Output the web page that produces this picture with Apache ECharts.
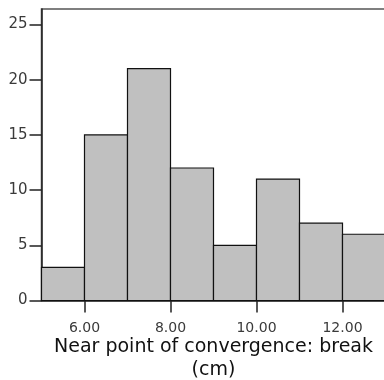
<!DOCTYPE html>
<html><head><meta charset="utf-8">
<script src="https://cdn.jsdelivr.net/npm/echarts@6/dist/echarts.min.js"></script>
<style>html,body{margin:0;padding:0;background:#fff}#c{width:384px;height:380px}</style>
</head><body><div id="c"></div>
<script>
const binStarts = [5, 6, 7, 8, 9, 10, 11, 12];
const binWidth = 1;
const counts = [3, 15, 21, 12, 5, 11, 7, 6];
const xTicks = [6, 8, 10, 12];
const yTicks = [0, 5, 10, 15, 20, 25];
const xTitle = 'Near point of convergence: break\n(cm)';

const data = binStarts.map((s, i) => [s, s + binWidth, counts[i]]);
const chart = echarts.init(document.getElementById('c'), null, {renderer: 'canvas'});
const font = 'DejaVu Sans';
chart.setOption({
  animation: false,
  grid: {left: 41.5, top: 9, width: 344, height: 291.5, outerBoundsMode: 'none', containLabel: false,
    show: true, borderColor: '#555', borderWidth: 1.5, backgroundColor: 'transparent'},
  xAxis: {
    type: 'value', min: 5, max: 13, interval: 1,
    axisLine: {show: true, onZero: false, lineStyle: {color: '#222', width: 1.5}},
    axisTick: {show: true, length: 12, lineStyle: {color: '#222', width: 1.5},
      customValues: xTicks},
    axisLabel: {color: '#3a3a3a', fontFamily: font, fontSize: 14, margin: 21,
      customValues: xTicks, formatter: v => v.toFixed(2)},
    splitLine: {show: false},
    name: xTitle, nameLocation: 'middle', nameGap: 35, nameMoveOverlap: false,
    nameTextStyle: {color: '#111', fontFamily: font, fontSize: 19, lineHeight: 23, verticalAlign: 'top'}
  },
  yAxis: {
    type: 'value', min: 0, max: 26.4, interval: 5,
    axisLine: {show: true, lineStyle: {color: '#222', width: 1.5}},
    axisTick: {show: true, length: 12, lineStyle: {color: '#222', width: 1.5}, customValues: yTicks},
    axisLabel: {color: '#3a3a3a', fontFamily: font, fontSize: 15, margin: 14, customValues: yTicks},
    splitLine: {show: false}
  },
  series: [{
    type: 'custom',
    data: data,
    encode: {x: [0, 1], y: 2},
    renderItem: function (params, api) {
      const p0 = api.coord([api.value(0), 0]);
      const p1 = api.coord([api.value(1), api.value(2)]);
      return {
        type: 'rect',
        shape: {x: p0[0], y: p1[1], width: p1[0] - p0[0], height: p0[1] - p1[1]},
        style: {fill: '#c0c0c0', stroke: '#111', lineWidth: 1.2}
      };
    }
  }]
});
</script></body></html>
